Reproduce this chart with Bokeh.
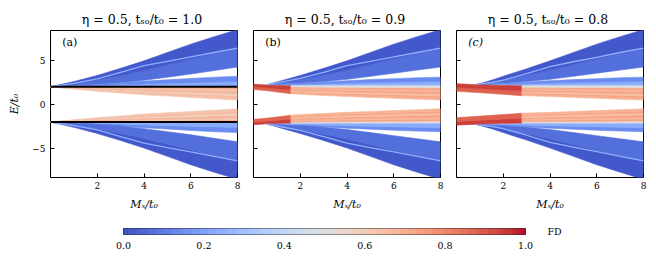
import numpy as np
from bokeh.plotting import figure
from bokeh.models import (LinearColorMapper, ColumnDataSource, FixedTicker, Range1d,
                          LinearAxis, Label, Span, PrintfTickFormatter)
from bokeh.layouts import column, row
from bokeh.transform import transform
from bokeh.embed import file_html
from bokeh.resources import INLINE

# ---------------- data ----------------
eta = 0.5
tso_values = [1.0, 0.9, 0.8]
panel_tags = ["(a)", "(b)", "(c)"]
x_ticks = [2, 4, 6, 8]
y_ticks = [-5, 0, 5]
cb_ticks = [0.0, 0.2, 0.4, 0.6, 0.8, 1.0]

M9 = [0, 1, 2, 3, 4, 5, 6, 7, 8]

# panel (a): t_so/t0 = 1.0
a_flat = [2.0, -2.0]
a_B1_lo = [2.0, 2.1, 2.25, 2.45, 2.75, 3.1, 3.45, 3.85, 4.25]
a_B1_hi = [2.0, 2.6, 3.3, 4.1, 4.95, 5.9, 6.85, 7.7, 8.5]
a_B1_line = [2.0, 2.4, 2.9, 3.65, 4.4, 4.9, 5.4, 5.9, 6.4]
a_B2_lo = [2.0, 2.0, 2.0, 2.0, 2.0, 2.0, 2.0, 2.0, 2.0]
a_B2_hi = [2.0, 2.1, 2.25, 2.45, 2.65, 2.8, 2.95, 3.1, 3.2]
a_I1_lo = [2.0, 1.75, 1.5, 1.3, 1.1, 0.95, 0.8, 0.65, 0.5]
a_I1_hi = [2.0, 2.0, 2.0, 2.0, 2.0, 2.0, 2.0, 2.0, 2.0]
a_I2_lo = [-2.0, -2.0, -2.0, -2.0, -2.0, -2.0, -2.0, -2.0, -2.0]
a_I2_hi = [-2.0, -1.75, -1.5, -1.3, -1.1, -0.95, -0.8, -0.65, -0.5]
a_B2m_lo = [-2.0, -2.1, -2.25, -2.45, -2.65, -2.8, -2.95, -3.1, -3.2]
a_B2m_hi = [-2.0, -2.0, -2.0, -2.0, -2.0, -2.0, -2.0, -2.0, -2.0]
a_B1m_lo = [-2.0, -2.6, -3.3, -4.1, -4.95, -5.9, -6.85, -7.7, -8.5]
a_B1m_hi = [-2.0, -2.1, -2.25, -2.45, -2.75, -3.1, -3.45, -3.85, -4.25]
a_B1m_line = [-2.0, -2.4, -2.9, -3.65, -4.4, -4.9, -5.4, -5.9, -6.4]

# panel (b): t_so/t0 = 0.9
b_Mb = [0.6, 1, 2, 3, 4, 5, 6, 7, 8]
b_B1_lo = [2.25, 2.3, 2.4, 2.6, 2.85, 3.2, 3.55, 3.9, 4.25]
b_B1_hi = [2.25, 2.55, 3.3, 4.1, 4.95, 5.9, 6.85, 7.7, 8.5]
b_B1_line = [2.25, 2.45, 2.95, 3.65, 4.4, 4.9, 5.4, 5.9, 6.4]
b_B2_lo = [2.2, 2.18, 2.15, 2.15, 2.15, 2.15, 2.15, 2.15, 2.15]
b_B2_hi = [2.25, 2.3, 2.4, 2.55, 2.7, 2.82, 2.93, 3.03, 3.1]
b_B2m_lo = [-2.25, -2.3, -2.4, -2.55, -2.7, -2.82, -2.93, -3.03, -3.1]
b_B2m_hi = [-2.2, -2.18, -2.15, -2.15, -2.15, -2.15, -2.15, -2.15, -2.15]
b_B1m_lo = [-2.25, -2.55, -3.3, -4.1, -4.95, -5.9, -6.85, -7.7, -8.5]
b_B1m_hi = [-2.25, -2.3, -2.4, -2.6, -2.85, -3.2, -3.55, -3.9, -4.25]
b_B1m_line = [-2.25, -2.45, -2.95, -3.65, -4.4, -4.9, -5.4, -5.9, -6.4]
b_Mr = [0, 0.6, 1.0, 1.6]
b_R1_lo = [1.7, 1.55, 1.42, 1.22]
b_R1_hi = [2.3, 2.2, 2.15, 2.12]
b_R2_lo = [-2.3, -2.2, -2.15, -2.12]
b_R2_hi = [-1.7, -1.55, -1.42, -1.22]
b_Mi = [1.6, 2, 3, 4, 5, 6, 7, 8]
b_I1_lo = [1.22, 1.15, 1.02, 0.9, 0.8, 0.7, 0.6, 0.5]
b_I1_hi = [2.12, 2.12, 2.12, 2.12, 2.12, 2.12, 2.12, 2.12]
b_I2_lo = [-2.12, -2.12, -2.12, -2.12, -2.12, -2.12, -2.12, -2.12]
b_I2_hi = [-1.22, -1.15, -1.02, -0.9, -0.8, -0.7, -0.6, -0.5]

# panel (c): t_so/t0 = 0.8
c_Mb = [0.9, 1.5, 2, 3, 4, 5, 6, 7, 8]
c_B1_lo = [2.3, 2.35, 2.4, 2.6, 2.85, 3.2, 3.55, 3.9, 4.25]
c_B1_hi = [2.3, 2.75, 3.2, 4.05, 4.95, 5.9, 6.85, 7.7, 8.5]
c_B1_line = [2.3, 2.5, 2.75, 3.5, 4.3, 4.85, 5.35, 5.9, 6.4]
c_B2_lo = [2.25, 2.2, 2.18, 2.15, 2.15, 2.15, 2.15, 2.15, 2.15]
c_B2_hi = [2.3, 2.35, 2.4, 2.55, 2.7, 2.82, 2.93, 3.03, 3.1]
c_B2m_lo = [-2.3, -2.35, -2.4, -2.55, -2.7, -2.82, -2.93, -3.03, -3.1]
c_B2m_hi = [-2.25, -2.2, -2.18, -2.15, -2.15, -2.15, -2.15, -2.15, -2.15]
c_B1m_lo = [-2.3, -2.75, -3.2, -4.05, -4.95, -5.9, -6.85, -7.7, -8.5]
c_B1m_hi = [-2.3, -2.35, -2.4, -2.6, -2.85, -3.2, -3.55, -3.9, -4.25]
c_B1m_line = [-2.3, -2.5, -2.75, -3.5, -4.3, -4.85, -5.35, -5.9, -6.4]
c_Mr = [0, 0.9, 2.0, 2.8]
c_R1_lo = [1.5, 1.35, 1.15, 1.0]
c_R1_hi = [2.35, 2.25, 2.15, 2.12]
c_R2_lo = [-2.35, -2.25, -2.15, -2.12]
c_R2_hi = [-1.5, -1.35, -1.15, -1.0]
c_Mi = [2.8, 3, 4, 5, 6, 7, 8]
c_I1_lo = [1.0, 0.98, 0.9, 0.8, 0.7, 0.6, 0.5]
c_I1_hi = [2.12, 2.12, 2.12, 2.12, 2.12, 2.12, 2.12]
c_I2_lo = [-2.12, -2.12, -2.12, -2.12, -2.12, -2.12, -2.12]
c_I2_hi = [-1.0, -0.98, -0.9, -0.8, -0.7, -0.6, -0.5]

# FD values of the sub-strips (listed from lower edge to upper edge)
fd_B1_up = [0.08, 0.03]
fd_B1_dn = [0.03, 0.08]
fd_B2_up = [0.24, 0.15]
fd_B2_dn = [0.15, 0.24]
fd_line = 0.25
fd_in_a_up = [0.62, 0.66, 0.58, 0.68, 0.62, 0.7]
fd_in_a_dn = [0.7, 0.62, 0.68, 0.58, 0.66, 0.62]
fd_in_up = [0.68, 0.72, 0.64, 0.73, 0.67, 0.72, 0.5]
fd_in_dn = [0.5, 0.72, 0.67, 0.73, 0.64, 0.72, 0.68]
fd_red_up = [0.87, 0.93]
fd_red_dn = [0.93, 0.87]

# ---------------- colour map (matplotlib "coolwarm") ----------------
CW = [(59, 76, 192), (68, 90, 204), (77, 104, 215), (87, 117, 225), (98, 130, 234),
      (108, 142, 241), (119, 154, 247), (130, 165, 251), (141, 176, 254), (152, 185, 255),
      (163, 194, 255), (174, 201, 253), (184, 208, 249), (194, 213, 244), (204, 217, 238),
      (213, 219, 230), (221, 221, 221), (229, 216, 209), (236, 211, 197), (241, 204, 184),
      (245, 196, 172), (247, 187, 160), (247, 177, 148), (247, 166, 135), (244, 154, 123),
      (241, 141, 111), (236, 127, 99), (229, 112, 88), (222, 96, 77), (213, 80, 66),
      (203, 62, 56), (192, 40, 47), (180, 4, 38)]


def coolwarm(n=256):
    out = []
    for i in range(n):
        t = i / (n - 1) * (len(CW) - 1)
        k = min(int(t), len(CW) - 2)
        f = t - k
        c = [int(round(a + (b - a) * f)) for a, b in zip(CW[k], CW[k + 1])]
        out.append("#%02x%02x%02x" % tuple(c))
    return out


mapper = LinearColorMapper(palette=coolwarm(256), low=0.0, high=1.0)

SERIF = "DejaVu Serif"


def band_patches(bands):
    xs, ys, fds = [], [], []
    for M, lo, hi, fdl in bands:
        M = np.asarray(M, float)
        lo = np.asarray(lo, float)
        hi = np.asarray(hi, float)
        fr = np.linspace(0, 1, len(fdl) + 1)
        for k, fd in enumerate(fdl):
            y0 = lo + (hi - lo) * fr[k]
            y1 = lo + (hi - lo) * fr[k + 1]
            xs.append(list(M) + list(M[::-1]))
            ys.append(list(y0) + list(y1[::-1]))
            fds.append(fd)
    return ColumnDataSource(dict(xs=xs, ys=ys, fd=fds))


def make_panel(i, bands, lines, flats, first, last):
    p = figure(frame_width=187, frame_height=147,
               x_range=Range1d(0, 8), y_range=Range1d(-8.3, 8.4),
               output_backend="svg", toolbar_location=None,
               min_border_left=50 if first else 8, min_border_right=4 if last else 8,
               min_border_top=30, min_border_bottom=38,
               background_fill_color="white", border_fill_color="white")
    p.title.text = "\u03b7 = %.1f,  t\u209b\u2092/t\u2080 = %.1f" % (eta, tso_values[i])
    p.title.text_font = SERIF
    p.title.text_font_size = "12.5px"
    p.title.text_font_style = "normal"
    p.title.align = "center"
    p.title.standoff = 8
    p.title.text_color = "black"

    src = band_patches(bands)
    p.patches("xs", "ys", source=src, fill_color=transform("fd", mapper),
              line_color=transform("fd", mapper), line_width=0.6)
    lsrc = ColumnDataSource(dict(xs=[l[0] for l in lines], ys=[l[1] for l in lines],
                                 fd=[fd_line] * len(lines)))
    p.multi_line("xs", "ys", source=lsrc, line_color=transform("fd", mapper), line_width=1.3)
    for e in flats:
        p.add_layout(Span(location=e, dimension="width", line_color="black", line_width=2))

    p.xgrid.visible = False
    p.ygrid.visible = False
    p.outline_line_color = "black"
    p.outline_line_width = 1
    p.outline_line_alpha = 1

    for ax in (p.xaxis[0], p.yaxis[0]):
        ax.axis_line_color = None
        ax.major_tick_in = 4
        ax.major_tick_out = 0
        ax.minor_tick_line_color = None
        ax.major_tick_line_color = "black"
        ax.major_label_text_font = SERIF
        ax.major_label_text_font_size = "9px"
        ax.major_label_text_color = "black"
        ax.axis_label_text_font = SERIF
        ax.axis_label_text_font_size = "11px"
        ax.axis_label_text_font_style = "italic"
        ax.axis_label_text_color = "black"
    p.xaxis.ticker = FixedTicker(ticks=x_ticks)
    p.xaxis.major_label_standoff = 4
    p.xaxis.axis_label = "M\u2093/t\u2080"
    p.xaxis.axis_label_standoff = 6
    p.yaxis.ticker = FixedTicker(ticks=y_ticks)
    if first:
        p.yaxis.major_label_overrides = {t: ("\u2212%d" % -t if t < 0 else str(t)) for t in y_ticks}
        p.yaxis.axis_label = "E/t\u2080"
        p.yaxis.axis_label_standoff = 8
        p.yaxis.major_label_standoff = 5
    else:
        p.yaxis.major_label_overrides = {t: "" for t in y_ticks}
        p.yaxis.major_label_standoff = 0

    p.add_layout(Label(x=0.5, y=7.05, text=panel_tags[i], text_font=SERIF,
                       text_font_size="11px", text_baseline="middle",
                       text_font_style="italic" if i == 2 else "normal", text_color="black"))
    return p


bands_a = [
    (M9, a_B1_lo, a_B1_hi, fd_B1_up), (M9, a_B2_lo, a_B2_hi, fd_B2_up),
    (M9, a_B2m_lo, a_B2m_hi, fd_B2_dn), (M9, a_B1m_lo, a_B1m_hi, fd_B1_dn),
    (M9, a_I1_lo, a_I1_hi, fd_in_a_up), (M9, a_I2_lo, a_I2_hi, fd_in_a_dn),
]
bands_b = [
    (b_Mb, b_B1_lo, b_B1_hi, fd_B1_up), (b_Mb, b_B2_lo, b_B2_hi, fd_B2_up),
    (b_Mb, b_B2m_lo, b_B2m_hi, fd_B2_dn), (b_Mb, b_B1m_lo, b_B1m_hi, fd_B1_dn),
    (b_Mr, b_R1_lo, b_R1_hi, fd_red_up), (b_Mr, b_R2_lo, b_R2_hi, fd_red_dn),
    (b_Mi, b_I1_lo, b_I1_hi, fd_in_up), (b_Mi, b_I2_lo, b_I2_hi, fd_in_dn),
]
bands_c = [
    (c_Mb, c_B1_lo, c_B1_hi, fd_B1_up), (c_Mb, c_B2_lo, c_B2_hi, fd_B2_up),
    (c_Mb, c_B2m_lo, c_B2m_hi, fd_B2_dn), (c_Mb, c_B1m_lo, c_B1m_hi, fd_B1_dn),
    (c_Mr, c_R1_lo, c_R1_hi, fd_red_up), (c_Mr, c_R2_lo, c_R2_hi, fd_red_dn),
    (c_Mi, c_I1_lo, c_I1_hi, fd_in_up), (c_Mi, c_I2_lo, c_I2_hi, fd_in_dn),
]

pa = make_panel(0, bands_a, [(M9, a_B1_line), (M9, a_B1m_line)], a_flat, True, False)
pb = make_panel(1, bands_b, [(b_Mb, b_B1_line), (b_Mb, b_B1m_line)], [], False, False)
pc = make_panel(2, bands_c, [(c_Mb, c_B1_line), (c_Mb, c_B1m_line)], [], False, True)

# ---------------- colour bar ----------------
cb = figure(frame_width=402, frame_height=6, x_range=Range1d(0, 1), y_range=Range1d(0, 1),
            output_backend="svg", toolbar_location=None,
            min_border_left=123, min_border_right=120, min_border_top=13, min_border_bottom=16,
            background_fill_color="white", border_fill_color="white")
nq = 256
cbs = ColumnDataSource(dict(l=[k / nq for k in range(nq)], r=[(k + 1) / nq for k in range(nq)],
                            v=[(k + 0.5) / nq for k in range(nq)]))
cb.quad(left="l", right="r", bottom=0, top=1, source=cbs,
        fill_color=transform("v", mapper), line_color=transform("v", mapper), line_width=0.5)
cb.xgrid.visible = False
cb.ygrid.visible = False
cb.yaxis.visible = False
cb.outline_line_color = "#333333"
cb.outline_line_width = 1
cb.xaxis.ticker = FixedTicker(ticks=cb_ticks)
cb.xaxis.formatter = PrintfTickFormatter(format="%.1f")
cb.xaxis.axis_line_color = None
cb.xaxis.major_tick_line_color = None
cb.xaxis.minor_tick_line_color = None
cb.xaxis.major_label_standoff = 1
cb.xaxis.major_label_text_font = SERIF
cb.xaxis.major_label_text_font_size = "9.5px"
cb.xaxis.major_label_text_color = "black"
fd_axis = LinearAxis(ticker=FixedTicker(ticks=[]), axis_label="FD",
                     axis_label_orientation="horizontal", axis_line_color=None,
                     major_tick_line_color=None, minor_tick_line_color=None,
                     axis_label_standoff=22, axis_label_text_font=SERIF,
                     axis_label_text_font_size="9.5px", axis_label_text_font_style="normal",
                     axis_label_text_color="black")
cb.add_layout(fd_axis, "right")

layout = column(row(pa, pb, pc), cb)
open("out.html", "w").write(file_html(layout, INLINE))
